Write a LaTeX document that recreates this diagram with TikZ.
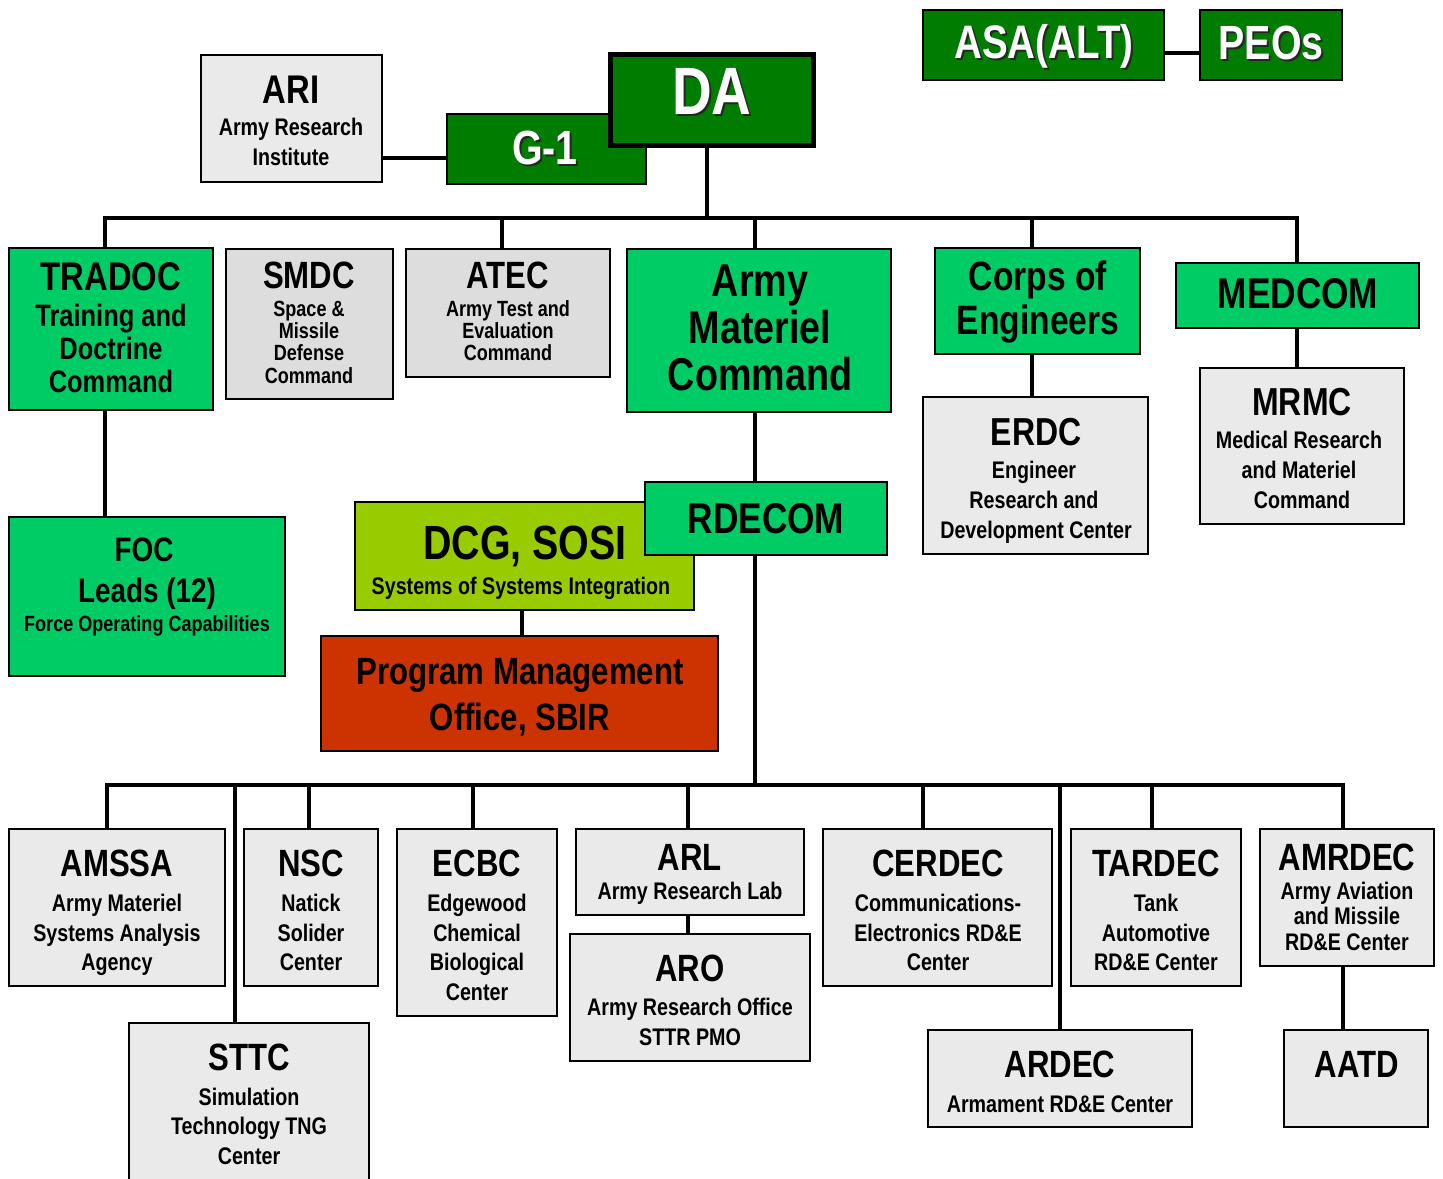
\documentclass[tikz,border=0pt]{standalone}
\usepackage{fontspec}
\setmainfont{Liberation Sans}[FakeStretch=0.82]
\definecolor{dkgreen}{HTML}{007C00}
\definecolor{bgreen}{HTML}{00CC66}
\definecolor{ygreen}{HTML}{99CC00}
\definecolor{pmored}{HTML}{CC3300}
\definecolor{lgray}{HTML}{EAEAEA}
\definecolor{mgray}{HTML}{DDDDDD}
\tikzset{
  box/.style={draw=black, line width=2.5pt, inner sep=0pt, outer sep=0pt},
  dg/.style={box, fill=dkgreen},
  gr/.style={box, fill=bgreen},
  yg/.style={box, fill=ygreen},
  rd/.style={box, fill=pmored},
  lg/.style={box, fill=lgray},
  mg/.style={box, fill=mgray},
  conn/.style={draw=black, line width=4pt, line join=miter},
  txt/.style={anchor=base, inner sep=0pt, outer sep=0pt, text=black}
}
\newcommand\obox[6]{%
  \pgfmathsetmacro\obw{#4-#2}\pgfmathsetmacro\obh{#5-#3}%
  \pgfmathsetmacro\obx{(#2+#4)/2}\pgfmathsetmacro\oby{(#3+#5)/2}%
  \node[#6, minimum width=\obw pt, minimum height=\obh pt] (#1) at (\obx,\oby) {};}
\newcommand\tline[5]{%
  \pgfmathsetmacro\tly{#3+0.358*#4}%
  \node[txt, font=\fontsize{#4}{#4}\selectfont\bfseries] (#1) at (#2,\tly) {#5};}
\newcommand\shw[1]{\rlap{\kern2pt\raisebox{-2pt}{\textcolor{black!85}{#1}}}\textcolor{white}{#1}}
\begin{document}
\begin{tikzpicture}[x=1pt,y=-1pt]
\clip (0,0) rectangle (1443,1178);
\fill[white] (0,0) rectangle (1443,1178);
% ---- boxes ----
\obox{ari}{201}{55}{382}{182}{lg}
\obox{g1}{447}{114}{646}{184}{dg}
\obox{da}{610}{54}{813}{145}{dg, line width=5pt}
\obox{asa}{923}{10}{1164}{80}{dg}
\obox{peo}{1200}{10}{1342}{80}{dg}
\obox{tradoc}{9}{248}{213}{410}{gr}
\obox{smdc}{226}{249}{393}{399}{mg}
\obox{atec}{406}{249}{610}{377}{mg}
\obox{amc}{627}{249}{891}{412}{gr}
\obox{corps}{935}{248}{1140}{354}{gr}
\obox{medcom}{1176}{263}{1419}{328}{gr}
\obox{erdc}{923}{397}{1148}{554}{lg}
\obox{mrmc}{1200}{368}{1404}{524}{lg}
\obox{foc}{9}{517}{285}{676}{gr}
\obox{dcg}{355}{502}{694}{610}{yg}
\obox{rdecom}{645}{482}{887}{555}{gr}
\obox{pmo}{321}{636}{718}{751}{rd}
\obox{amssa}{9}{829}{225}{986}{lg}
\obox{nsc}{244}{829}{378}{986}{lg}
\obox{ecbc}{397}{829}{557}{1016}{lg}
\obox{arl}{576}{829}{804}{915}{lg}
\obox{aro}{570}{934}{810}{1061}{lg}
\obox{cerdec}{823}{829}{1052}{986}{lg}
\obox{tardec}{1071}{829}{1241}{986}{lg}
\obox{amrdec}{1260}{829}{1434}{966}{lg}
\obox{aatd}{1284}{1030}{1428}{1127}{lg}
\obox{ardec}{928}{1030}{1192}{1127}{lg}
\obox{sttc}{129}{1023}{369}{1192}{lg}
% ---- connector coordinates ----
\coordinate (g1w) at ([yshift=-9pt]g1.west);
\coordinate (asae) at ([yshift=-8pt]asa.east);
\coordinate (dab) at ([xshift=-4.5pt]da.south);
\coordinate (busL) at (105,218);
\coordinate (busR) at (1297,218);
\coordinate (dAtec) at (502,218);
\coordinate (dAmc) at (755,218);
\coordinate (dCorps) at (1032,218);
\coordinate (dcgb) at ([xshift=-2.5pt]dcg.south);
\coordinate (bL) at (107,785);
\coordinate (bR) at (1343,785);
\coordinate (eSttc) at (235,785);
\coordinate (eNsc) at (309,785);
\coordinate (eEcbc) at (473,785);
\coordinate (eArl) at (688,785);
\coordinate (eCerdec) at (923,785);
\coordinate (eArdec) at (1060,785);
\coordinate (eTardec) at (1152,785);
% ---- connectors ----
\draw[conn] (g1w) -- (g1w -| ari.east);
\draw[conn] (asae) -- (asae -| peo.west);
\draw[conn] (dab) -- (dab |- busL);
\draw[conn] (busL |- tradoc.north) -- (busL) -- (busR) -- (busR |- medcom.north);
\draw[conn] (dAtec) -- (dAtec |- atec.north);
\draw[conn] (dAmc) -- (dAmc |- amc.north);
\draw[conn] (dCorps) -- (dCorps |- corps.north);
\draw[conn] (busL |- tradoc.south) -- (busL |- foc.north);
\draw[conn] (dCorps |- corps.south) -- (dCorps |- erdc.north);
\draw[conn] (busR |- medcom.south) -- (busR |- mrmc.north);
\draw[conn] (dAmc |- amc.south) -- (dAmc |- rdecom.north);
\draw[conn] (dAmc |- rdecom.south) -- (dAmc |- bL);
\draw[conn] (dcgb) -- (dcgb |- pmo.north);
\draw[conn] (bL |- amssa.north) -- (bL) -- (bR) -- (bR |- amrdec.north);
\draw[conn] (eSttc) -- (eSttc |- sttc.north);
\draw[conn] (eNsc) -- (eNsc |- nsc.north);
\draw[conn] (eEcbc) -- (eEcbc |- ecbc.north);
\draw[conn] (eArl) -- (eArl |- arl.north);
\draw[conn] (eCerdec) -- (eCerdec |- cerdec.north);
\draw[conn] (eArdec) -- (eArdec |- ardec.north);
\draw[conn] (eTardec) -- (eTardec |- tardec.north);
\draw[conn] (eArl |- arl.south) -- (eArl |- aro.north);
\draw[conn] (bR |- amrdec.south) -- (bR |- aatd.north);
% ---- texts ----
\tline{tAri}{291}{89}{40}{ARI}
\tline{tAri1}{291}{127}{24}{Army Research}
\tline{tAri2}{291}{157}{24}{Institute}
\tline{tG1}{545}{147}{48}{\shw{G-1}}
\tline{tDa}{712}{91}{67}{\shw{DA}}
\tline{tAsa}{1044}{42}{47}{\shw{ASA(ALT)}}
\tline{tPeo}{1271}{42}{48}{\shw{PEOs}}
\tline{tTr}{111}{276}{40}{TRADOC}
\tline{tTr1}{111}{315}{31}{Training and}
\tline{tTr2}{111}{348}{31}{Doctrine}
\tline{tTr3}{111}{381}{31}{Command}
\tline{tSm}{309}{275}{38}{SMDC}
\tline{tSm1}{309}{309}{22}{Space \&}
\tline{tSm2}{309}{331}{22}{Missile}
\tline{tSm3}{309}{353}{22}{Defense}
\tline{tSm4}{309}{376}{22}{Command}
\tline{tAt}{508}{275}{38}{ATEC}
\tline{tAt1}{508}{309}{22}{Army Test and}
\tline{tAt2}{508}{331}{22}{Evaluation}
\tline{tAt3}{508}{353}{22}{Command}
\tline{tAm1}{760}{280}{46}{Army}
\tline{tAm2}{760}{327}{46}{Materiel}
\tline{tAm3}{760}{374}{46}{Command}
\tline{tCo1}{1038}{276}{41}{Corps of}
\tline{tCo2}{1038}{320}{41}{Engineers}
\tline{tMe}{1298}{293}{43}{MEDCOM}
\tline{tEr}{1036}{432}{39}{ERDC}
\tline{tEr1}{1034}{470}{24}{Engineer}
\tline{tEr2}{1034}{500}{24}{Research and}
\tline{tEr3}{1036}{530}{24}{Development Center}
\tline{tMr}{1302}{402}{39}{MRMC}
\tline{tMr1}{1299}{440}{24}{Medical Research}
\tline{tMr2}{1299}{470}{24}{and Materiel}
\tline{tMr3}{1302}{500}{24}{Command}
\tline{tFo}{144}{549}{34}{FOC}
\tline{tFo1}{147}{590}{34}{Leads (12)}
\tline{tFo2}{147}{624}{22}{Force Operating Capabilities}
\tline{tDc}{525}{542}{48}{DCG, SOSI}
\tline{tDc1}{521}{586}{24}{Systems of Systems Integration}
\tline{tRd}{766}{518}{43}{RDECOM}
\tline{tPm1}{520}{671}{38}{Program Management}
\tline{tPm2}{520}{717}{38}{Office, SBIR}
\tline{tAs}{117}{863}{38}{AMSSA}
\tline{tAs1}{117}{903}{24}{Army Materiel}
\tline{tAs2}{117}{933}{24}{Systems Analysis}
\tline{tAs3}{117}{962}{24}{Agency}
\tline{tNs}{311}{863}{38}{NSC}
\tline{tNs1}{311}{903}{24}{Natick}
\tline{tNs2}{311}{933}{24}{Solider}
\tline{tNs3}{311}{962}{24}{Center}
\tline{tEc}{477}{863}{38}{ECBC}
\tline{tEc1}{477}{903}{24}{Edgewood}
\tline{tEc2}{477}{933}{24}{Chemical}
\tline{tEc3}{477}{962}{24}{Biological}
\tline{tEc4}{477}{992}{24}{Center}
\tline{tAl}{690}{857}{38}{ARL}
\tline{tAl1}{690}{891}{24}{Army Research Lab}
\tline{tAo}{690}{968}{38}{ARO}
\tline{tAo1}{690}{1007}{24}{Army Research Office}
\tline{tAo2}{690}{1037}{24}{STTR PMO}
\tline{tCe}{938}{863}{38}{CERDEC}
\tline{tCe1}{938}{903}{24}{Communications-}
\tline{tCe2}{938}{933}{24}{Electronics RD\&E}
\tline{tCe3}{938}{962}{24}{Center}
\tline{tTa}{1156}{863}{38}{TARDEC}
\tline{tTa1}{1156}{903}{24}{Tank}
\tline{tTa2}{1156}{933}{24}{Automotive}
\tline{tTa3}{1156}{962}{24}{RD\&E Center}
\tline{tAr}{1347}{857}{38}{AMRDEC}
\tline{tAr1}{1347}{891}{24}{Army Aviation}
\tline{tAr2}{1347}{916}{24}{and Missile}
\tline{tAr3}{1347}{942}{24}{RD\&E Center}
\tline{tAa}{1357}{1064}{38}{AATD}
\tline{tAd}{1060}{1064}{38}{ARDEC}
\tline{tAd1}{1060}{1104}{24}{Armament RD\&E Center}
\tline{tSt}{249}{1057}{38}{STTC}
\tline{tSt1}{249}{1097}{24}{Simulation}
\tline{tSt2}{249}{1126}{24}{Technology TNG}
\tline{tSt3}{249}{1156}{24}{Center}
\end{tikzpicture}
\end{document}
